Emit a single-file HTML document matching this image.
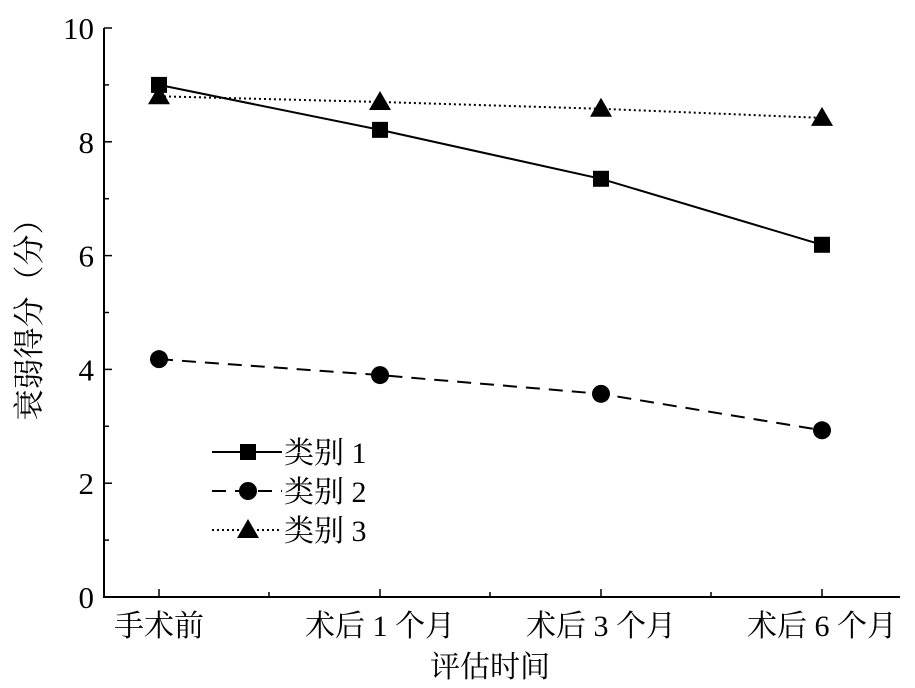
<!DOCTYPE html>
<html><head><meta charset="utf-8"><style>body{margin:0;background:#fff}svg{display:block}text{font-family:"Liberation Serif","Noto Serif CJK SC",serif;fill:#000}</style></head>
<body>
<svg id="c" width="915" height="688"></svg>
<script>
const categories=["手术前","术后 1 个月","术后 3 个月","术后 6 个月"];
const series1=[9.0,8.21,7.35,6.19];
const series2=[4.18,3.9,3.57,2.93];
const series3=[8.8,8.7,8.58,8.42];
const yTicks=[0,2,4,6,8,10];
const seriesNames=["类别 1","类别 2","类别 3"];
const ns="http://www.w3.org/2000/svg",svg=document.getElementById('c');
const X0=104,Y0=597,Y10=28;
const xs=i=>159+i*221, ys=v=>Y0-(v/10)*(Y0-Y10);
function el(t,a,p){const e=document.createElementNS(ns,t);for(const k in a)e.setAttribute(k,a[k]);(p||svg).appendChild(e);return e;}
const ax=el('g',{});
el('line',{x1:X0,y1:Y10,x2:X0,y2:Y0+1,stroke:'#000','stroke-width':2},ax);
el('line',{x1:X0,y1:Y0,x2:900,y2:Y0,stroke:'#000','stroke-width':2},ax);
for(let v=0;v<=10;v++){el('line',{x1:X0,y1:ys(v),x2:X0+(v%2?5:8),y2:ys(v),stroke:'#000','stroke-width':1.5},ax);}
yTicks.forEach(v=>{const t=el('text',{x:94,y:ys(v)+11,'text-anchor':'end','font-size':31},ax);t.textContent=v;});
categories.forEach((c,i)=>{el('line',{x1:xs(i),y1:Y0,x2:xs(i),y2:Y0-8,stroke:'#000','stroke-width':1.5},ax);
 if(i<3)el('line',{x1:xs(i)+110,y1:Y0,x2:xs(i)+110,y2:Y0-5,stroke:'#000','stroke-width':1.5},ax);
 const t=el('text',{x:xs(i),y:636,'text-anchor':'middle','font-size':30},ax);t.textContent=c;});
let t=el('text',{x:490,y:677,'text-anchor':'middle','font-size':30});t.textContent='评估时间';
t=el('text',{x:0,y:0,'text-anchor':'middle','font-size':31,transform:'translate(40,312) rotate(-90)'});t.textContent='衰弱得分（分）';
const dashes=['none','14 9','2 3'];
function marker(k,x,y,g){if(k==0)return el('rect',{x:x-8,y:y-8,width:16,height:16,fill:'#000'},g);if(k==1)return el('circle',{cx:x,cy:y,r:9,fill:'#000'},g);return el('polygon',{points:`${x},${y-11} ${x-11},${y+8} ${x+11},${y+8}`,fill:'#000'},g);}
[series1,series2,series3].forEach((s,k)=>{const g=el('g',{});
 el('polyline',{points:s.map((v,i)=>xs(i)+','+ys(v)).join(' '),fill:'none',stroke:'#000','stroke-width':2,'stroke-dasharray':dashes[k]},g);
 s.forEach((v,i)=>{const m=marker(k,xs(i),ys(v),g);});
 const ly=452+k*39,lg=el('g',{});
 el('line',{x1:212,y1:ly,x2:282,y2:ly,stroke:'#000','stroke-width':2,'stroke-dasharray':dashes[k]},lg);marker(k,248,ly,lg);
 const lt=el('text',{x:284,y:ly+11,'font-size':30},lg);lt.textContent=seriesNames[k];});
</script>
</body></html>
